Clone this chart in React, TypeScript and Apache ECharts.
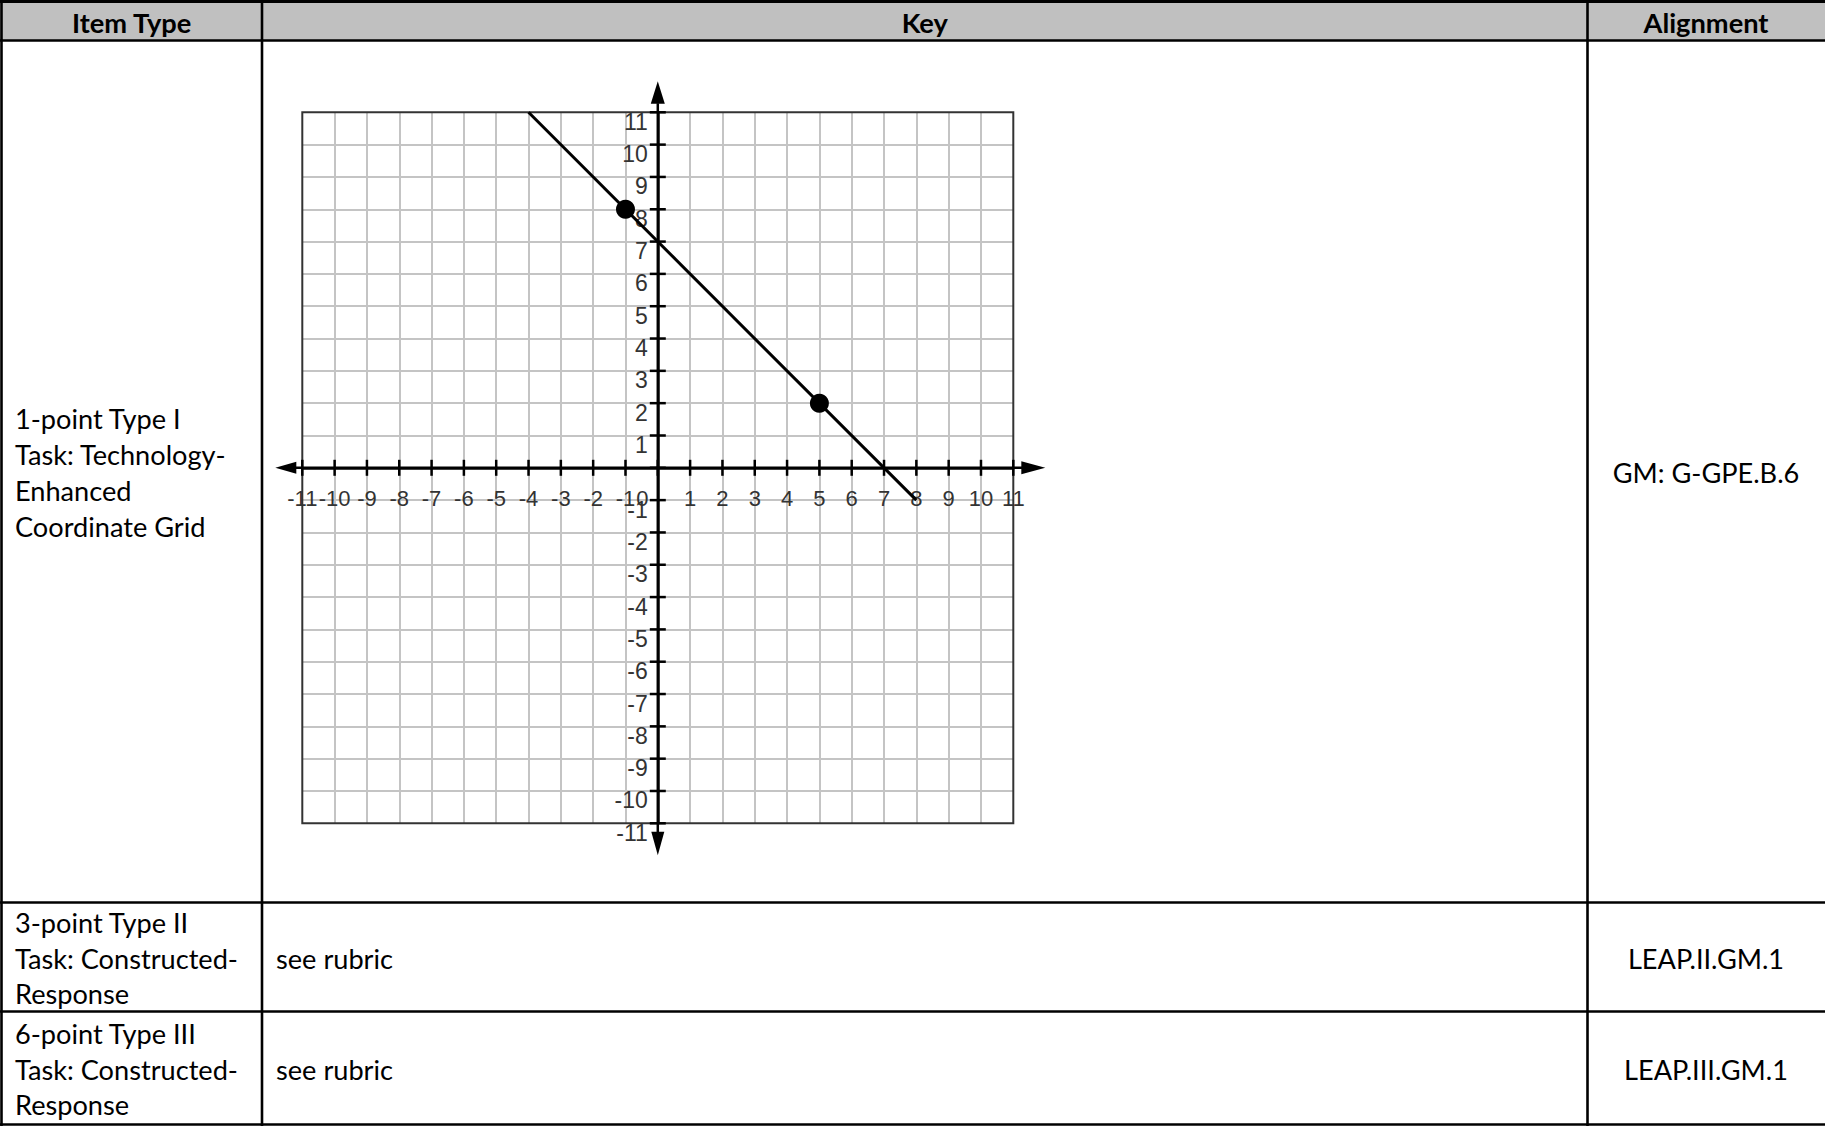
import React, { useEffect, useRef } from "react";
import * as echarts from "echarts";

// ---------- data ----------
const AXIS_MIN = -11;
const AXIS_MAX = 11;
const AXIS_TICKS = [-11, -10, -9, -8, -7, -6, -5, -4, -3, -2, -1, 0, 1, 2, 3, 4, 5, 6, 7, 8, 9, 10, 11];
const LINE_POINTS = [
  [-4, 11],
  [8, -1],
];
const MARKED_POINTS = [
  [-1, 8],
  [5, 2],
];
const HEADERS = ["Item Type", "Key", "Alignment"];
const ITEM_TYPES = [
  "1-point Type I\nTask: Technology-\nEnhanced\nCoordinate Grid",
  "3-point Type II\nTask: Constructed-\nResponse",
  "6-point Type III\nTask: Constructed-\nResponse",
];
const KEYS = ["", "see rubric", "see rubric"];
const ALIGNMENTS = ["GM: G-GPE.B.6", "LEAP.II.GM.1", "LEAP.III.GM.1"];

// ---------- layout ----------
const W = 1825;
const H = 1126;
const GRID_LEFT = 302.3;
const GRID_TOP = 112.3;
const GRID_SIZE = 711;
const ROW_LINES = [1.5, 40.5, 902.5, 1011.5, 1124.5];
const COL_LINES = [1.5, 262, 1587.5];
const COL_CENTERS = [131.75, 924.75, 1706];
const TEXT_FONT = "Lato";
const LABEL_FONT = "Liberation Sans";

function fitSize(text: string, family: string, weight: string, target: number) {
  const ctx = document.createElement("canvas").getContext("2d");
  if (!ctx) return 24;
  ctx.font = `${weight} 100px "${family}"`;
  const w = ctx.measureText(text).width;
  return w > 0 ? (100 * target) / w : 24;
}

export default function App() {
  const ref = useRef<HTMLDivElement>(null);

  useEffect(() => {
    if (!ref.current) return;
    const chart = echarts.init(ref.current, null, { renderer: "svg" });

    const bodySize = fitSize("Task: Constructed-", TEXT_FONT, "normal", 223);
    const headSize = fitSize("Alignment", TEXT_FONT, "bold", 125);
    const lineH = 35.8;

    const graphics: any[] = [];
    graphics.push({
      type: "rect",
      shape: { x: 0, y: ROW_LINES[0], width: W, height: ROW_LINES[1] - ROW_LINES[0] },
      style: { fill: "#c0c0c0" },
      z: -1,
    });
    ROW_LINES.forEach((y, i) => {
      graphics.push({
        type: "line",
        shape: { x1: 0, y1: y, x2: W, y2: y },
        style: { stroke: "#000", lineWidth: i === 0 ? 3 : 2.6 },
      });
    });
    COL_LINES.forEach((x) => {
      graphics.push({
        type: "line",
        shape: { x1: x, y1: 0, x2: x, y2: H },
        style: { stroke: "#000", lineWidth: 2.6 },
      });
    });
    HEADERS.forEach((h, i) => {
      graphics.push({
        type: "text",
        x: COL_CENTERS[i],
        y: 22,
        style: {
          text: h,
          fontFamily: TEXT_FONT,
          fontWeight: "bold",
          fontSize: headSize,
          fill: "#000",
          align: "center",
          verticalAlign: "middle",
        },
      });
    });
    const rowCenters = [0, 1, 2].map((r) => (ROW_LINES[r + 1] + ROW_LINES[r + 2]) / 2 + 1);
    ITEM_TYPES.forEach((t, r) => {
      graphics.push({
        type: "text",
        x: 15,
        y: rowCenters[r],
        style: {
          text: t,
          fontFamily: TEXT_FONT,
          fontSize: bodySize,
          lineHeight: lineH,
          fill: "#000",
          align: "left",
          verticalAlign: "middle",
        },
      });
    });
    KEYS.forEach((t, r) => {
      if (!t) return;
      graphics.push({
        type: "text",
        x: 276,
        y: rowCenters[r],
        style: {
          text: t,
          fontFamily: TEXT_FONT,
          fontSize: bodySize,
          fill: "#000",
          align: "left",
          verticalAlign: "middle",
        },
      });
    });
    ALIGNMENTS.forEach((t, r) => {
      graphics.push({
        type: "text",
        x: COL_CENTERS[2],
        y: rowCenters[r],
        style: {
          text: t,
          fontFamily: TEXT_FONT,
          fontSize: bodySize,
          fill: "#000",
          align: "center",
          verticalAlign: "middle",
        },
      });
    });

    const tickStroke = { stroke: "#000", lineWidth: 2.5 };
    const half = GRID_SIZE / 2;

    const option: any = {
      animation: false,
      backgroundColor: "#fff",
      graphic: graphics,
      grid: {
        left: GRID_LEFT,
        top: GRID_TOP,
        width: GRID_SIZE,
        height: GRID_SIZE,
        containLabel: false,
        outerBoundsMode: "none",
      },
      xAxis: {
        type: "value",
        position: "bottom",
        offset: -half,
        min: AXIS_MIN,
        max: AXIS_MAX,
        interval: 1,
        axisLine: { show: true, onZero: false, lineStyle: { color: "#000", width: 2.5 } },
        axisTick: { show: false },
        splitLine: {
          show: true,
          showMinLine: false,
          showMaxLine: false,
          lineStyle: { color: "#c4c4c4", width: 2 },
        },
        axisLabel: {
          show: true,
          showMinLabel: true,
          showMaxLabel: true,
          margin: 30.5,
          verticalAlign: "middle",
          fontFamily: LABEL_FONT,
          fontSize: 22,
          color: "#333",
          formatter: (v: number) => (v === 0 ? "{z|0}" : String(v)),
          rich: {
            z: {
              fontFamily: LABEL_FONT,
              fontSize: 22,
              color: "#333",
              padding: [0, 31, 0, 0],
            },
          },
        },
      },
      yAxis: {
        type: "value",
        position: "left",
        offset: -half,
        min: AXIS_MIN,
        max: AXIS_MAX,
        interval: 1,
        axisLine: { show: true, onZero: false, lineStyle: { color: "#000", width: 2.5 } },
        axisTick: { show: false },
        splitLine: {
          show: true,
          showMinLine: false,
          showMaxLine: false,
          lineStyle: { color: "#c4c4c4", width: 2 },
        },
        axisLabel: {
          show: true,
          showMinLabel: true,
          showMaxLabel: true,
          margin: 10,
          align: "right",
          verticalAlign: "top",
          lineHeight: 19,
          fontFamily: LABEL_FONT,
          fontSize: 23,
          color: "#333",
          formatter: (v: number) => (v === 0 ? "" : String(v)),
        },
      },
      series: [
        {
          type: "custom",
          clip: false,
          silent: true,
          data: [[0, 0]],
          renderItem: (_params: any, api: any) => {
            const [x0, yTop] = api.coord([AXIS_MIN, AXIS_MAX]);
            const [x1, yBot] = api.coord([AXIS_MAX, AXIS_MIN]);
            const [ox, oy] = api.coord([0, 0]);
            const children: any[] = [];
            children.push({
              type: "rect",
              shape: { x: x0, y: yTop, width: x1 - x0, height: yBot - yTop },
              style: { fill: "none", stroke: "#333", lineWidth: 2 },
            });
            children.push({
              type: "line",
              shape: { x1: x0 - 8, y1: oy, x2: x1 + 9, y2: oy },
              style: tickStroke,
            });
            children.push({
              type: "line",
              shape: { x1: ox, y1: yTop - 9, x2: ox, y2: yBot + 9 },
              style: tickStroke,
            });
            // arrows
            children.push({
              type: "polygon",
              shape: { points: [[x0 - 27, oy], [x0 - 6, oy - 6], [x0 - 6, oy + 6]] },
              style: { fill: "#000" },
            });
            children.push({
              type: "polygon",
              shape: { points: [[x1 + 32, oy], [x1 + 8, oy - 6.5], [x1 + 8, oy + 6.5]] },
              style: { fill: "#000" },
            });
            children.push({
              type: "polygon",
              shape: { points: [[ox, yTop - 31], [ox - 7, yTop - 8.5], [ox + 7, yTop - 8.5]] },
              style: { fill: "#000" },
            });
            children.push({
              type: "polygon",
              shape: { points: [[ox, yBot + 32], [ox - 6.5, yBot + 8.5], [ox + 6.5, yBot + 8.5]] },
              style: { fill: "#000" },
            });
            AXIS_TICKS.forEach((v) => {
              const tx = api.coord([v, 0])[0];
              const ty = api.coord([0, v])[1];
              children.push({
                type: "line",
                shape: { x1: tx, y1: oy - 8, x2: tx, y2: oy + 8 },
                style: tickStroke,
              });
              children.push({
                type: "line",
                shape: { x1: ox - 8, y1: ty, x2: ox + 8, y2: ty },
                style: tickStroke,
              });
            });
            return { type: "group", children };
          },
        },
        {
          type: "line",
          data: LINE_POINTS,
          symbol: "none",
          lineStyle: { color: "#000", width: 3 },
          silent: true,
          z: 5,
        },
        {
          type: "scatter",
          data: MARKED_POINTS,
          symbolSize: 19,
          itemStyle: { color: "#000", opacity: 1 },
          silent: true,
          z: 6,
        },
      ],
    };

    chart.setOption(option);
    return () => {
      chart.dispose();
    };
  }, []);

  return (
    <div
      ref={ref}
      style={{ position: "fixed", left: 0, top: 0, width: W, height: H, background: "#fff" }}
    />
  );
}
